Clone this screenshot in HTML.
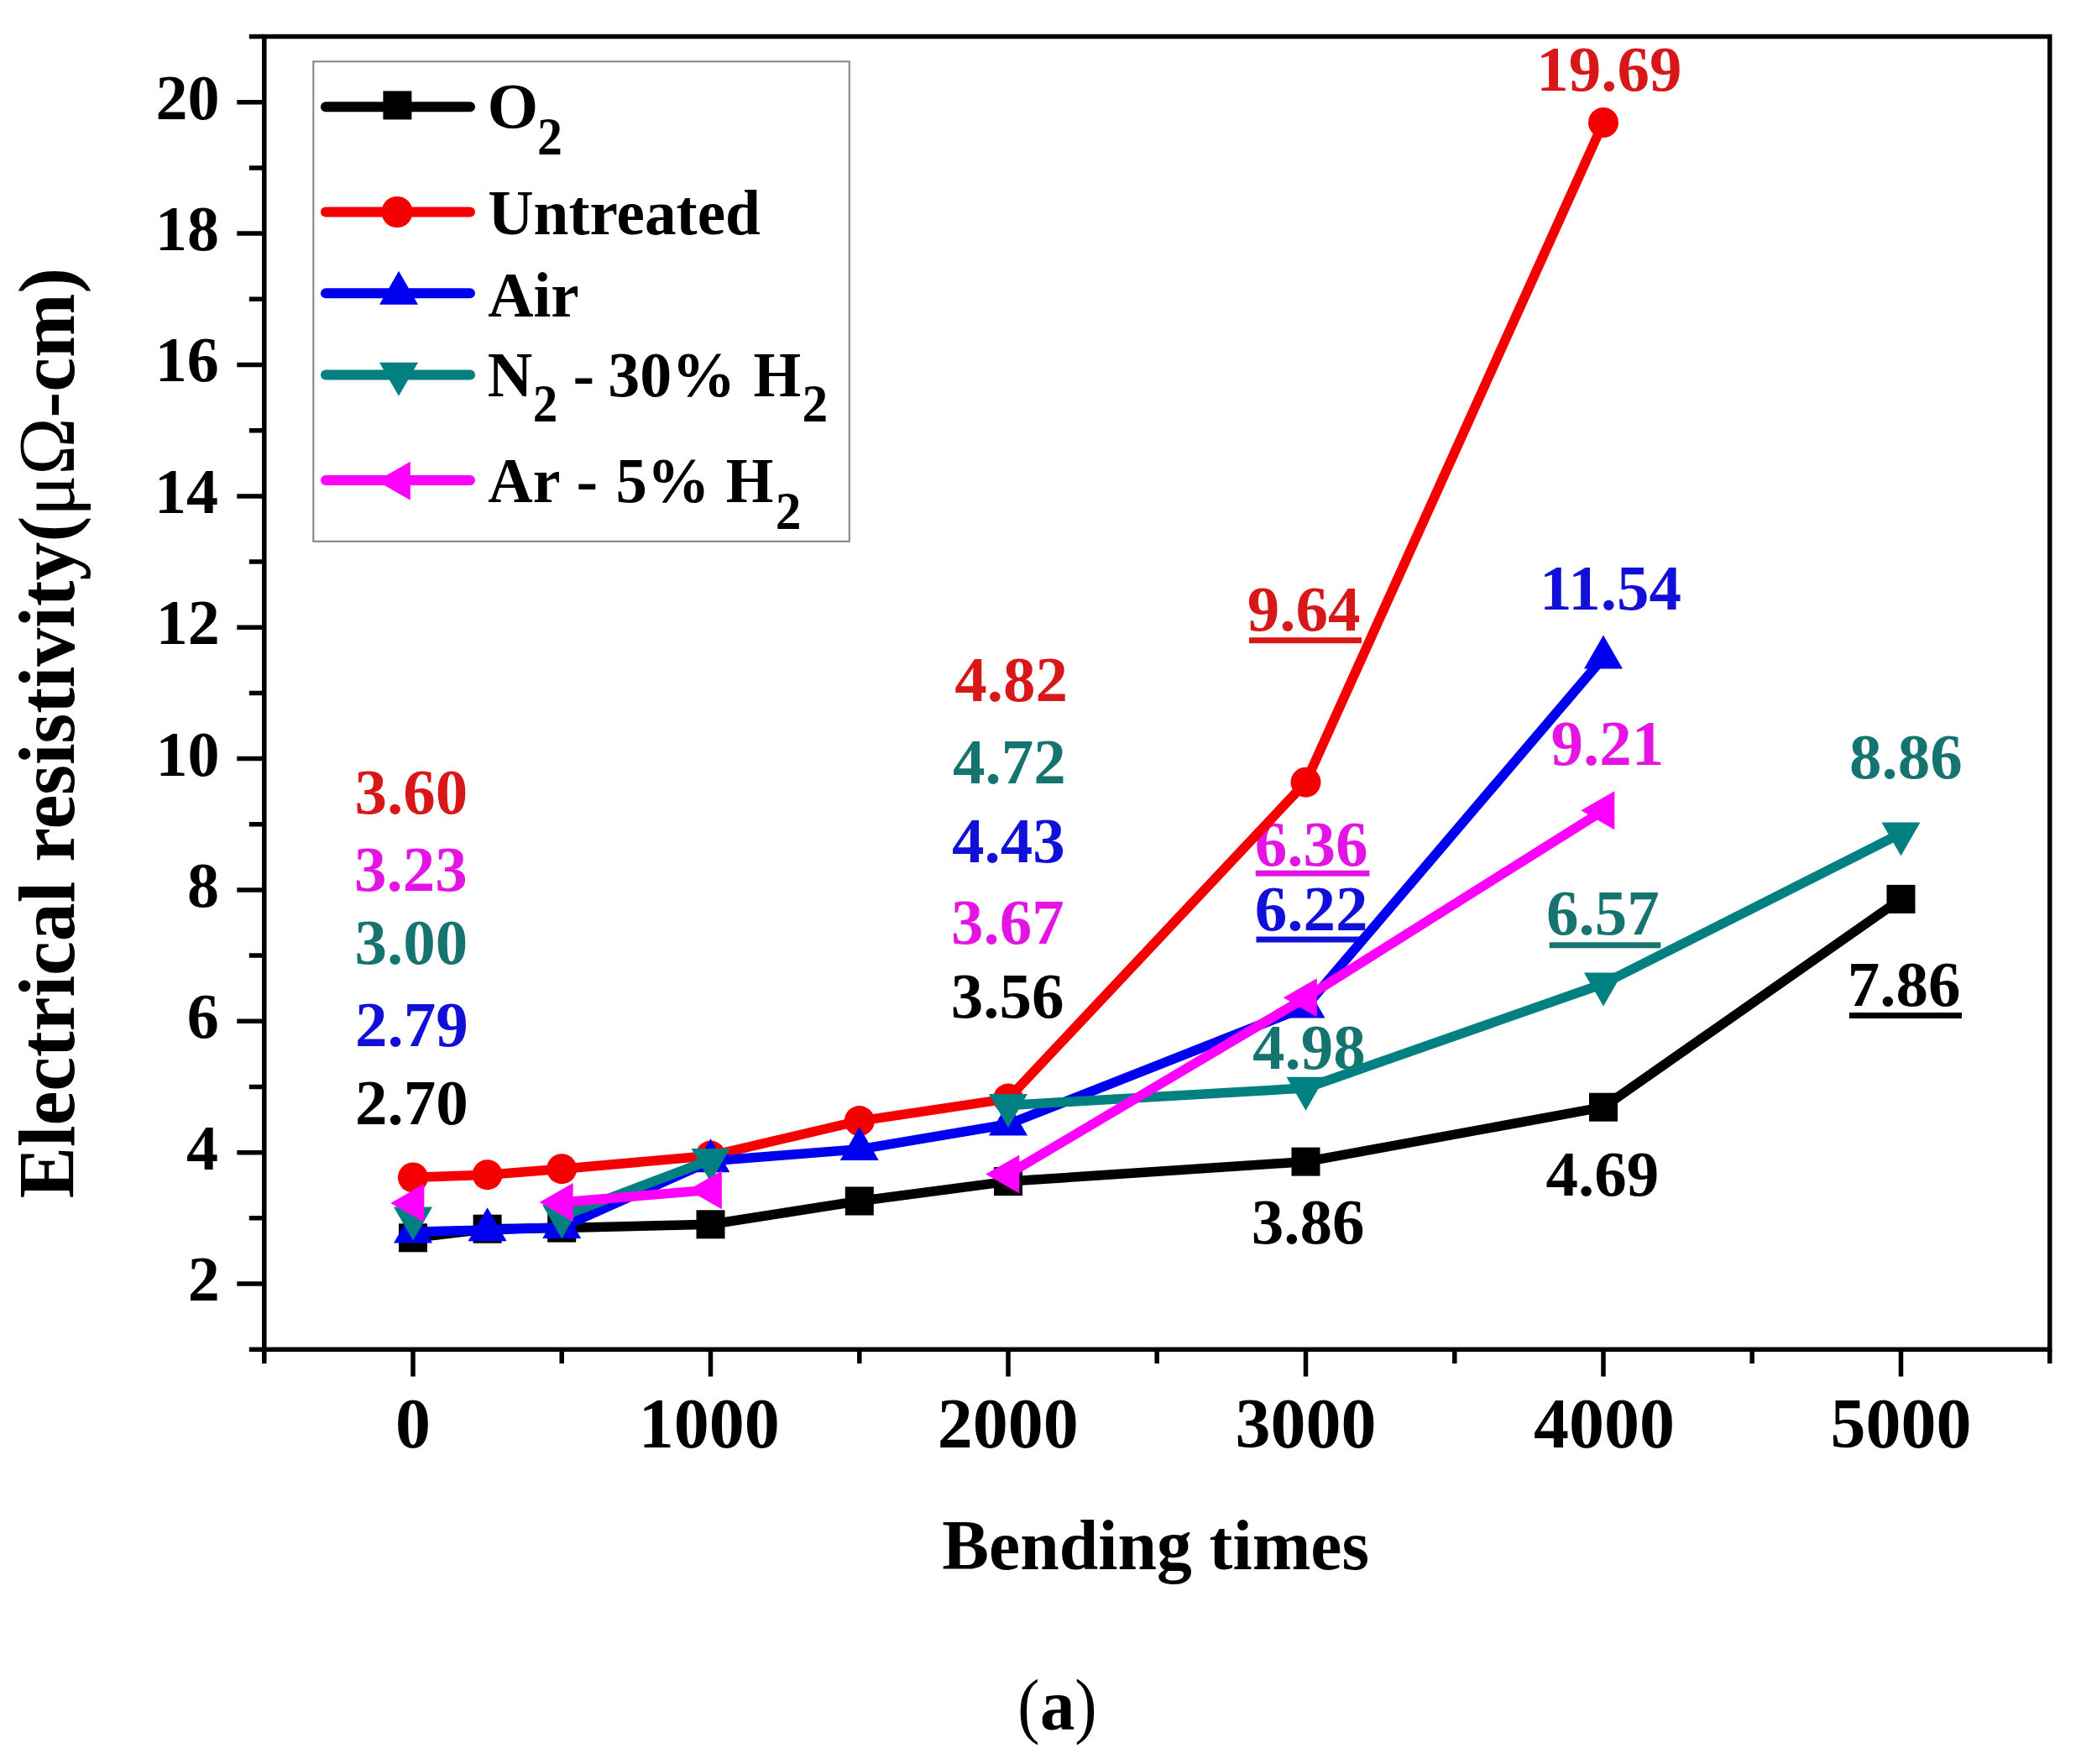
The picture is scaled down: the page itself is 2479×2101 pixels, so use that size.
<!DOCTYPE html>
<html><head><meta charset="utf-8"><title>Electrical resistivity vs bending times</title>
<style>html,body{margin:0;padding:0;background:#fff;overflow:hidden;}svg{display:block;}</style>
</head><body>
<svg width="2479" height="2101" viewBox="0 0 2479 2101">
<rect width="2479" height="2101" fill="#fff"/>
<g font-family="'Liberation Serif', 'Times New Roman', serif" font-weight="bold">
<text x="223.8" y="1549.2" font-size="76" fill="#000">2</text>
<text x="221.9" y="1392.7" font-size="76" fill="#000">4</text>
<text x="222.7" y="1236.1" font-size="76" fill="#000">6</text>
<text x="223.0" y="1079.8" font-size="76" fill="#000">8</text>
<text x="185.4" y="923.5" font-size="76" fill="#000">10</text>
<text x="185.8" y="767.4" font-size="76" fill="#000">12</text>
<text x="183.9" y="610.9" font-size="76" fill="#000">14</text>
<text x="184.7" y="454.3" font-size="76" fill="#000">16</text>
<text x="185.0" y="298.0" font-size="76" fill="#000">18</text>
<text x="185.4" y="141.7" font-size="76" fill="#000">20</text>
<text x="471.0" y="1723.9" font-size="84" fill="#000">0</text>
<text x="760.7" y="1723.9" font-size="84" fill="#000">1000</text>
<text x="1116.8" y="1723.9" font-size="84" fill="#000">2000</text>
<text x="1471.5" y="1723.9" font-size="84" fill="#000">3000</text>
<text x="1827.0" y="1723.9" font-size="84" fill="#000">4000</text>
<text x="2180.4" y="1723.9" font-size="84" fill="#000">5000</text>
<text transform="translate(1123.7 1869.0) scale(0.9780 1)" x="-1.4" y="0" font-size="85.5">Bending times</text>
<text transform="translate(88.1 1425.8) rotate(-90) scale(0.9727 1)" x="-1.6" y="0" font-size="94.5">Electrical resistivity(<tspan font-weight="normal">μΩ</tspan>-cm)</text>
<text transform="translate(1215.8 2060.0) scale(0.9145 1)" x="-3.8" y="0" font-size="86" font-weight="normal">(</text><text transform="translate(1241.7 2060.0) scale(0.9633 1)" x="-2.8" y="0" font-size="86">a</text><text transform="translate(1282.7 2060.0) scale(0.9191 1)" x="-2.8" y="0" font-size="86" font-weight="normal">)</text>
</g>
<path d="M314.8 43.6H2441.8V1607.2H314.8Z" fill="none" stroke="#000" stroke-width="5.5" stroke-linejoin="miter"/>
<path d="M296.8 1607.2H314.8 M282.3 1529.0H314.8 M296.8 1450.8H314.8 M282.3 1372.7H314.8 M296.8 1294.5H314.8 M282.3 1216.3H314.8 M296.8 1138.1H314.8 M282.3 1059.9H314.8 M296.8 981.8H314.8 M282.3 903.6H314.8 M296.8 825.4H314.8 M282.3 747.2H314.8 M296.8 669.0H314.8 M282.3 590.9H314.8 M296.8 512.7H314.8 M282.3 434.5H314.8 M296.8 356.3H314.8 M282.3 278.1H314.8 M296.8 200.0H314.8 M282.3 121.8H314.8 M296.8 43.6H314.8 M314.8 1607.2V1624.0 M492.0 1607.2V1639.4 M669.2 1607.2V1624.0 M846.5 1607.2V1639.4 M1023.8 1607.2V1624.0 M1201.0 1607.2V1639.4 M1378.2 1607.2V1624.0 M1555.5 1607.2V1639.4 M1732.8 1607.2V1624.0 M1910.0 1607.2V1639.4 M2087.2 1607.2V1624.0 M2264.5 1607.2V1639.4 M2441.8 1607.2V1624.0" fill="none" stroke="#000" stroke-width="5.5" stroke-linecap="butt"/>
<g font-family="'Liberation Serif', 'Times New Roman', serif" font-weight="bold">
<text x="422.5" y="968.5" font-size="77" fill="#d81818">3.60</text>
<text x="422.1" y="1061.4" font-size="77" fill="#e414e4">3.23</text>
<text x="422.5" y="1148.3" font-size="77" fill="#157470">3.00</text>
<text x="422.9" y="1246.3" font-size="77" fill="#1010d8">2.79</text>
<text x="423.0" y="1339.0" font-size="77" fill="#000">2.70</text>
<text x="1137.3" y="834.8" font-size="77" fill="#d81818">4.82</text>
<text x="1134.9" y="933.2" font-size="77" fill="#157470">4.72</text>
<text x="1133.9" y="1026.5" font-size="77" fill="#1010d8">4.43</text>
<text x="1133.0" y="1123.6" font-size="77" fill="#e414e4">3.67</text>
<text x="1132.8" y="1212.3" font-size="77" fill="#000">3.56</text>
<text x="1485.7" y="750.7" font-size="77" fill="#d81818">9.64</text>
<rect x="1488.0" y="759.2" width="134.0" height="7" fill="#d81818"/>
<text x="1494.8" y="1031.1" font-size="77" fill="#e414e4">6.36</text>
<rect x="1495.7" y="1036.7" width="135.7" height="7" fill="#e414e4"/>
<text x="1494.7" y="1108.3" font-size="77" fill="#1010d8">6.22</text>
<rect x="1496.5" y="1115.5" width="129.5" height="7" fill="#1010d8"/>
<text x="1491.9" y="1272.5" font-size="77" fill="#157470">4.98</text>
<text x="1490.8" y="1481.2" font-size="77" fill="#000">3.86</text>
<text x="1830.2" y="108.1" font-size="77" fill="#d81818">19.69</text>
<text x="1834.1" y="725.8" font-size="77" fill="#1010d8">11.54</text>
<text x="1847.5" y="910.8" font-size="77" fill="#e414e4">9.21</text>
<text x="1841.9" y="1113.3" font-size="77" fill="#157470">6.57</text>
<rect x="1845.8" y="1122.3" width="132.5" height="7" fill="#157470"/>
<text x="1841.5" y="1423.5" font-size="77" fill="#000">4.69</text>
<text x="2202.9" y="927.0" font-size="77" fill="#157470">8.86</text>
<text x="2200.7" y="1198.3" font-size="77" fill="#000">7.86</text>
<rect x="2202.9" y="1206.0" width="134.1" height="7" fill="#000"/>
</g>
<g>
<path d="M492.0 1474.3 L580.6 1463.7 L669.2 1462.6 L846.5 1458.3 L1023.8 1430.5 L1201.0 1407.1 L1555.5 1383.6 L1910.0 1318.7 L2264.5 1070.9" fill="none" stroke="#000000" stroke-width="11.5" stroke-linejoin="round"/>
<rect x="475.0" y="1457.3" width="34" height="34" fill="#000000"/>
<rect x="563.6" y="1446.7" width="34" height="34" fill="#000000"/>
<rect x="652.2" y="1445.6" width="34" height="34" fill="#000000"/>
<rect x="829.5" y="1441.3" width="34" height="34" fill="#000000"/>
<rect x="1006.8" y="1413.5" width="34" height="34" fill="#000000"/>
<rect x="1184.0" y="1390.1" width="34" height="34" fill="#000000"/>
<rect x="1538.5" y="1366.6" width="34" height="34" fill="#000000"/>
<rect x="1893.0" y="1301.7" width="34" height="34" fill="#000000"/>
<rect x="2247.5" y="1053.9" width="34" height="34" fill="#000000"/>
</g>
<g>
<path d="M492.0 1402.4 L580.6 1399.2 L669.2 1392.2 L846.5 1376.6 L1023.8 1335.1 L1201.0 1308.6 L1555.5 931.7 L1910.0 146.0" fill="none" stroke="#f50000" stroke-width="11.5" stroke-linejoin="round"/>
<circle cx="492.0" cy="1402.4" r="18" fill="#f50000"/>
<circle cx="580.6" cy="1399.2" r="18" fill="#f50000"/>
<circle cx="669.2" cy="1392.2" r="18" fill="#f50000"/>
<circle cx="846.5" cy="1376.6" r="18" fill="#f50000"/>
<circle cx="1023.8" cy="1335.1" r="18" fill="#f50000"/>
<circle cx="1201.0" cy="1308.6" r="18" fill="#f50000"/>
<circle cx="1555.5" cy="931.7" r="18" fill="#f50000"/>
<circle cx="1910.0" cy="146.0" r="18" fill="#f50000"/>
</g>
<g>
<path d="M492.0 1467.3 L580.6 1464.9 L669.2 1461.8 L846.5 1382.8 L1023.8 1368.8 L1201.0 1339.0 L1555.5 1199.1 L1910.0 783.2" fill="none" stroke="#0000f0" stroke-width="11.5" stroke-linejoin="round"/>
<polygon points="492.0,1440.6 469.0,1480.6 515.0,1480.6" fill="#0000f0"/>
<polygon points="580.6,1438.2 557.6,1478.2 603.6,1478.2" fill="#0000f0"/>
<polygon points="669.2,1435.1 646.2,1475.1 692.2,1475.1" fill="#0000f0"/>
<polygon points="846.5,1356.2 823.5,1396.2 869.5,1396.2" fill="#0000f0"/>
<polygon points="1023.8,1342.1 1000.8,1382.1 1046.8,1382.1" fill="#0000f0"/>
<polygon points="1201.0,1312.4 1178.0,1352.4 1224.0,1352.4" fill="#0000f0"/>
<polygon points="1555.5,1172.4 1532.5,1212.4 1578.5,1212.4" fill="#0000f0"/>
<polygon points="1910.0,756.5 1887.0,796.5 1933.0,796.5" fill="#0000f0"/>
</g>
<g>
<path d="M669.2 1448.5 L846.5 1381.3" fill="none" stroke="#008080" stroke-width="11.5" stroke-linejoin="round"/>
<path d="M1201.0 1316.4 L1555.5 1296.0 L1910.0 1171.7 L2264.5 992.7" fill="none" stroke="#008080" stroke-width="11.5" stroke-linejoin="round"/>
<polygon points="492.0,1477.5 469.0,1437.5 515.0,1437.5" fill="#008080"/>
<polygon points="669.2,1475.2 646.2,1435.2 692.2,1435.2" fill="#008080"/>
<polygon points="846.5,1407.9 823.5,1367.9 869.5,1367.9" fill="#008080"/>
<polygon points="1201.0,1343.0 1178.0,1303.0 1224.0,1303.0" fill="#008080"/>
<polygon points="1555.5,1322.7 1532.5,1282.7 1578.5,1282.7" fill="#008080"/>
<polygon points="1910.0,1198.4 1887.0,1158.4 1933.0,1158.4" fill="#008080"/>
<polygon points="2264.5,1019.4 2241.5,979.4 2287.5,979.4" fill="#008080"/>
</g>
<g>
<path d="M669.2 1432.1 L846.5 1417.2" fill="none" stroke="#ff00ff" stroke-width="11.5" stroke-linejoin="round"/>
<path d="M1201.0 1398.5 L1555.5 1188.2 L1910.0 965.3" fill="none" stroke="#ff00ff" stroke-width="11.5" stroke-linejoin="round"/>
<polygon points="465.3,1432.9 505.3,1409.9 505.3,1455.9" fill="#ff00ff"/>
<polygon points="642.6,1432.1 682.6,1409.1 682.6,1455.1" fill="#ff00ff"/>
<polygon points="819.8,1417.2 859.8,1394.2 859.8,1440.2" fill="#ff00ff"/>
<polygon points="1174.3,1398.5 1214.3,1375.5 1214.3,1421.5" fill="#ff00ff"/>
<polygon points="1528.8,1188.2 1568.8,1165.2 1568.8,1211.2" fill="#ff00ff"/>
<polygon points="1883.3,965.3 1923.3,942.3 1923.3,988.3" fill="#ff00ff"/>
</g>
<g font-family="'Liberation Serif', 'Times New Roman', serif" font-weight="bold">
<rect x="373.3" y="73.3" width="638.5" height="571.5" fill="none" stroke="#808080" stroke-width="2"/>
<path d="M388 127.2H560" stroke="#000000" stroke-width="12" stroke-linecap="round"/>
<rect x="456.4" y="108.4" width="34" height="34" fill="#000000"/>
<path d="M388 252.5H560" stroke="#f50000" stroke-width="12" stroke-linecap="round"/>
<circle cx="473.0" cy="252.5" r="18.6" fill="#f50000"/>
<path d="M388 349.3H560" stroke="#0000f0" stroke-width="12" stroke-linecap="round"/>
<polygon points="475.0,322.8 452.0,362.8 498.0,362.8" fill="#0000f0"/>
<path d="M388 446.6H560" stroke="#008080" stroke-width="12" stroke-linecap="round"/>
<polygon points="475.0,471.7 452.0,431.7 498.0,431.7" fill="#008080"/>
<path d="M388 571.9H560" stroke="#ff00ff" stroke-width="12" stroke-linecap="round"/>
<polygon points="448.8,572.7 488.8,549.7 488.8,595.7" fill="#ff00ff"/>
<text transform="translate(584.3 151.6) scale(1.0139 1)" x="-3.8" y="0" font-size="77">O</text>
<text transform="translate(642.4 183.9) scale(0.9374 1)" x="-2.7" y="0" font-size="64">2</text>
<text transform="translate(583.0 278.5) scale(0.9780 1)" x="-1.9" y="0" font-size="77">Untreated</text>
<text transform="translate(581.9 376.7) scale(0.9773 1)" x="-0.8" y="0" font-size="77">Air</text>
<text transform="translate(582.1 472.3) scale(0.9619 1)" x="-1.5" y="0" font-size="77">N</text>
<text transform="translate(637.3 501.9) scale(0.9224 1)" x="-2.7" y="0" font-size="64">2</text>
<text x="682.5" y="472.3" font-size="77">-</text>
<text transform="translate(727.2 472.3) scale(0.9862 1)" x="-2.9" y="0" font-size="77">30%</text>
<text transform="translate(898.7 472.3) scale(0.9459 1)" x="-1.3" y="0" font-size="77">H</text>
<text transform="translate(958.0 501.9) scale(0.9600 1)" x="-2.7" y="0" font-size="64">2</text>
<text transform="translate(582.1 598.3) scale(0.9591 1)" x="-0.8" y="0" font-size="77">Ar</text>
<text x="686.6" y="598.3" font-size="77">-</text>
<text transform="translate(736.4 598.3) scale(0.9705 1)" x="-3.1" y="0" font-size="77">5%</text>
<text transform="translate(866.0 598.3) scale(0.9459 1)" x="-1.3" y="0" font-size="77">H</text>
<text transform="translate(926.3 630.0) scale(0.9600 1)" x="-2.7" y="0" font-size="64">2</text>
</g>
</svg>
</body></html>
